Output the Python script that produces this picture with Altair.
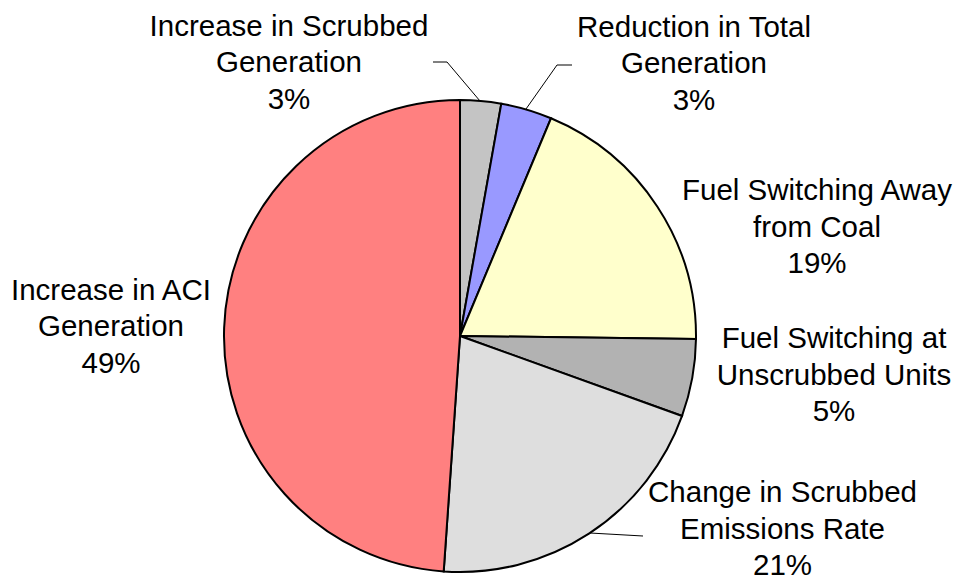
import altair as alt
import pandas as pd

# --- data ---
categories = [
    "Increase in Scrubbed Generation",
    "Reduction in Total Generation",
    "Fuel Switching Away from Coal",
    "Fuel Switching at Unscrubbed Units",
    "Change in Scrubbed Emissions Rate",
    "Increase in ACI Generation",
]
shares = [2.8, 3.5, 18.9, 5.3, 20.6, 48.9]
label_texts = [
    "Increase in Scrubbed\nGeneration\n3%",
    "Reduction in Total\nGeneration\n3%",
    "Fuel Switching Away\nfrom Coal\n19%",
    "Fuel Switching at\nUnscrubbed Units\n5%",
    "Change in Scrubbed\nEmissions Rate\n21%",
    "Increase in ACI\nGeneration\n49%",
]
colors = ["#c4c4c4", "#9999ff", "#ffffcc", "#b2b2b2", "#dedede", "#ff8080"]

# --- layout (pixel positions inside the view) ---
cx, cy, R = 452, 328, 236
label_x = [281, 686, 809, 826, 774.5, 103]
label_y = [18.5, 19.5, 183, 331, 485, 282.5]
leader_x = [425, 439, 564, 549, 582]
leader_y = [54, 54, 57, 57, 525]
leader_x2 = [439, 472, 549, 518, 635]
leader_y2 = [54, 93, 57, 101, 528]
leader_col = ["black", "black", "#808080", "black", "black"]
leader_w = [1, 1, 2, 1, 1]

pie_df = pd.DataFrame({"category": categories, "share": shares,
                       "order": list(range(len(categories)))})
lab_df = pd.DataFrame({"text": label_texts, "lx": label_x, "ly": label_y})
lead_df = pd.DataFrame({"x": leader_x, "y": leader_y, "x2": leader_x2, "y2": leader_y2,
                        "c": leader_col, "w": leader_w})

pie = alt.Chart(pie_df).mark_arc(outerRadius=R, stroke="black", strokeWidth=2).encode(
    theta=alt.Theta("share:Q", stack=True),
    order=alt.Order("order:Q"),
    color=alt.Color("category:N", scale=alt.Scale(domain=categories, range=colors), legend=None),
    x=alt.value(cx),
    y=alt.value(cy),
)

leaders = alt.Chart(lead_df).mark_rule().encode(
    x=alt.X("x:Q", scale=None),
    y=alt.Y("y:Q", scale=None),
    x2="x2:Q",
    y2="y2:Q",
    color=alt.Color("c:N", scale=None),
    strokeWidth=alt.StrokeWidth("w:Q", scale=None),
)

labels = alt.Chart(lab_df).mark_text(
    font="Liberation Sans", fontSize=29.5, lineHeight=36.5, align="center",
    baseline="middle", color="black", lineBreak="\n",
).encode(
    x=alt.X("lx:Q", scale=None),
    y=alt.Y("ly:Q", scale=None),
    text="text:N",
)

chart = alt.layer(pie, leaders, labels).properties(
    width=945, height=568, autosize=alt.AutoSizeParams(type="none"), padding=0,
).configure_view(stroke=None)

chart.save("out.html", embed_options={"renderer": "svg", "actions": False})
